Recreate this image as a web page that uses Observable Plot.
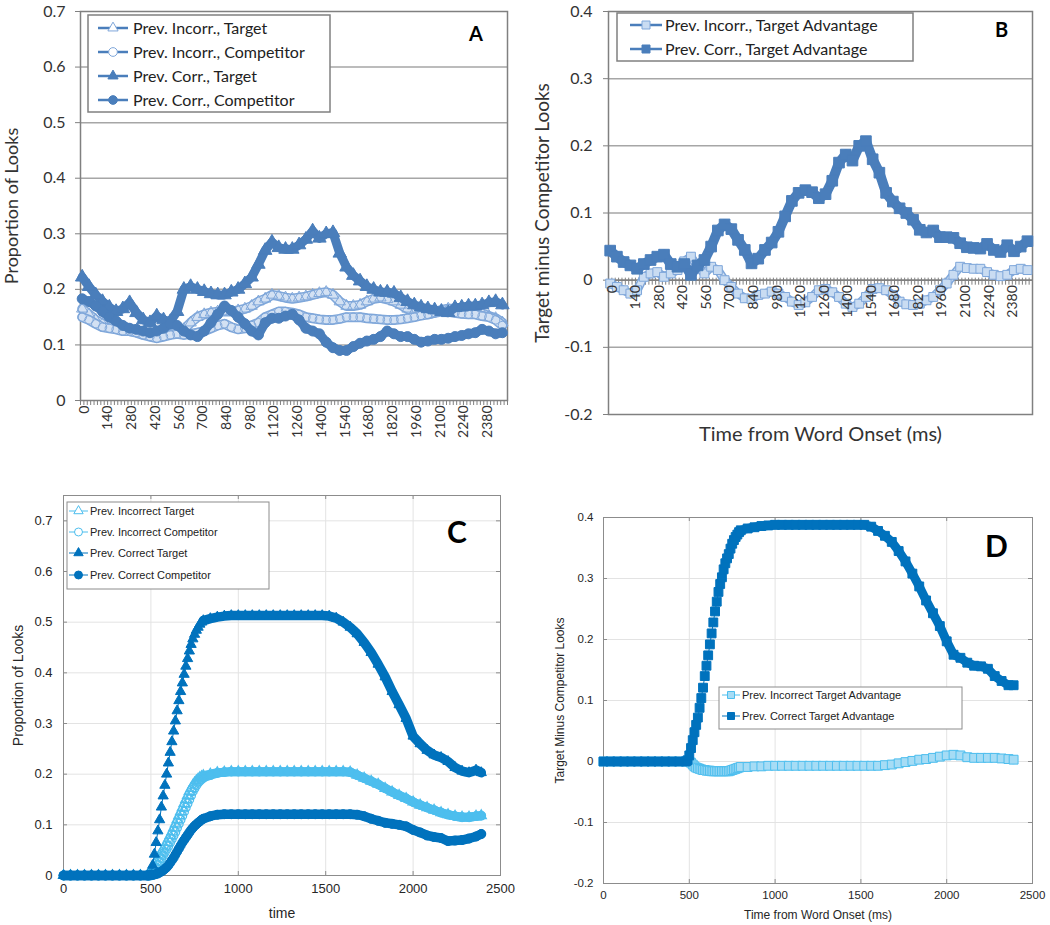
<!DOCTYPE html>
<html><head><meta charset="utf-8">
<script src="https://cdn.jsdelivr.net/npm/d3@7"></script>
<script src="https://cdn.jsdelivr.net/npm/@observablehq/plot@0.6"></script>
<style>
body{margin:0;background:#fff;}
#wrap{position:relative;width:1050px;height:925px;overflow:hidden;background:#fff;}
.panel{position:absolute;}
</style></head><body><div id="wrap"></div>
<script>
// ---------- Panels A & B (time bins, ms) ----------
const abTime = [0,40,80,120,160,200,240,280,320,360,
  400,440,480,520,560,600,640,680,720,760,
  800,840,880,920,960,1000,1040,1080,1120,1160,
  1200,1240,1280,1320,1360,1400,1440,1480,1520,1560,
  1600,1640,1680,1720,1760,1800,1840,1880,1920,1960,
  2000,2040,2080,2120,2160,2200,2240,2280,2320,2360,
  2400,2440,2480];
const aIncorrTarget = [.165,.155,.145,.138,.135,.13,.128,.125,.123,.12,
  .118,.115,.118,.12,.122,.128,.14,.15,.155,.158,
  .16,.16,.16,.162,.165,.17,.178,.183,.19,.188,
  .185,.183,.185,.187,.19,.193,.195,.19,.178,.17,
  .17,.172,.178,.183,.185,.182,.178,.172,.165,.16,
  .157,.155,.158,.163,.165,.165,.165,.163,.16,.157,
  .152,.148,.14];
const aIncorrComp = [.15,.145,.138,.132,.13,.128,.125,.125,.122,.118,
  .115,.112,.115,.118,.12,.118,.12,.122,.125,.13,
  .135,.138,.132,.128,.13,.135,.14,.15,.155,.16,
  .16,.158,.155,.15,.148,.146,.145,.145,.147,.15,
  .15,.15,.148,.147,.146,.145,.145,.146,.148,.15,
  .153,.155,.158,.16,.16,.158,.156,.155,.155,.152,
  .15,.145,.135];
const aCorrTarget = [.222,.205,.19,.178,.168,.16,.165,.176,.158,.145,
  .14,.152,.145,.142,.16,.2,.205,.2,.196,.192,
  .19,.19,.195,.2,.21,.222,.245,.27,.285,.275,
  .272,.272,.28,.29,.305,.292,.3,.302,.265,.24,
  .225,.215,.205,.2,.195,.195,.193,.185,.178,.172,
  .168,.165,.163,.16,.158,.167,.168,.17,.17,.172,
  .176,.178,.172];
const aCorrComp = [.183,.178,.17,.16,.15,.143,.135,.13,.128,.125,
  .122,.125,.13,.138,.135,.125,.118,.115,.125,.14,
  .155,.17,.162,.15,.138,.125,.118,.14,.148,.148,
  .152,.155,.145,.13,.125,.12,.105,.095,.09,.09,
  .097,.103,.107,.11,.115,.125,.12,.115,.115,.11,
  .105,.107,.11,.11,.112,.115,.117,.12,.122,.128,
  .125,.12,.122];
const bIncorrAdv = [-.005,-.01,-.015,-.02,-.015,.005,.01,.012,.005,.01,
  .015,.028,.035,.02,.01,.02,.015,0,-.01,-.02,
  -.027,-.028,-.022,-.02,-.017,-.02,-.025,-.032,-.037,-.033,
  -.025,-.015,-.013,-.018,-.025,-.035,-.04,-.035,-.025,-.013,
  -.012,-.015,-.022,-.032,-.036,-.037,-.035,-.03,-.025,-.015,
  -.005,.008,.02,.018,.017,.017,.012,.008,.006,.008,
  .015,.017,.015];
const bCorrAdv = [.044,.035,.027,.022,.017,.024,.03,.035,.038,.024,
  .02,.024,.008,.022,.03,.05,.074,.083,.076,.06,
  .045,.025,.032,.045,.056,.072,.095,.118,.13,.134,
  .131,.122,.128,.148,.175,.187,.178,.2,.207,.18,
  .16,.13,.117,.107,.1,.09,.075,.071,.074,.064,
  .064,.063,.055,.049,.048,.047,.054,.045,.042,.052,
  .043,.05,.058];
const abTickLabels = [0,140,280,420,560,700,840,980,1120,1260,1400,1540,1680,1820,1960,2100,2240,2380];
const aYTicks = [0,0.1,0.2,0.3,0.4,0.5,0.6,0.7];
const bYTicks = [-0.2,-0.1,0,0.1,0.2,0.3,0.4];

// ---------- Panels C & D ----------
const cdTime = [0,40,80,120,160,200,240,280,320,360,400,440,480,
  490,500,510,520,530,540,550,560,570,580,
  590,600,610,620,630,640,650,660,670,680,
  690,700,710,720,730,740,750,760,770,780,
  790,800,
  840,880,920,960,1000,1040,1080,1120,1160,1200,
  1240,1280,1320,1360,1400,1440,1480,1520,1560,1600,
  1640,1680,1720,1760,1800,1840,1880,1920,1960,2000,
  2040,2080,2120,2160,2200,2240,2280,2320,2360,
  2390];
const cIncorrTarget = [0,0,0,0,0,0,0,0,0,0,0,0,0,
  .004,.01,.016,.022,.028,.034,.04,.046,.052,.058,
  .065,.072,.079,.086,.094,.102,.11,.118,.126,.134,
  .142,.15,.158,.166,.172,.178,.183,.187,.19,.193,
  .195,.197,
  .2,.203,.204,.205,.205,.205,.205,.205,.205,.205,
  .205,.205,.205,.205,.205,.205,.205,.205,.205,.205,
  .204,.198,.192,.186,.18,.172,.165,.158,.152,.145,
  .139,.134,.129,.124,.12,.117,.115,.115,.117,
  .118];
const cIncorrComp = [0,0,0,0,0,0,0,0,0,0,0,0,0,
  0,0,.004,.01,.016,.022,.028,.034,.04,.046,
  .052,.058,.065,.072,.079,.086,.094,.102,.11,.118,
  .126,.134,.142,.15,.158,.166,.172,.178,.183,.187,
  .19,.193,
  .198,.202,.204,.205,.205,.205,.205,.205,.205,.205,
  .205,.205,.205,.205,.205,.205,.205,.205,.205,.205,
  .204,.198,.192,.186,.18,.172,.165,.158,.152,.145,
  .139,.134,.129,.124,.12,.117,.115,.115,.117,
  .118];
const cCorrTarget = [0,0,0,0,0,0,0,0,0,0,0,0,0,
  0,0,.02,.042,.065,.088,.11,.135,.157,.178,
  .2,.222,.243,.264,.285,.305,.325,.345,.363,.38,
  .397,.413,.428,.443,.456,.467,.476,.484,.49,.496,
  .5,.503,
  .507,.51,.512,.513,.513,.513,.513,.513,.513,.513,
  .513,.513,.513,.513,.513,.513,.513,.512,.508,.5,
  .49,.477,.46,.44,.417,.392,.363,.337,.31,.275,
  .26,.247,.238,.233,.225,.213,.206,.203,.208,
  .203];
const cCorrComp = [0,0,0,0,0,0,0,0,0,0,0,0,0,
  0,.001,.001,.002,.003,.004,.006,.008,.01,.013,
  .016,.02,.025,.03,.035,.041,.047,.053,.059,.065,
  .07,.075,.08,.085,.09,.094,.098,.101,.104,.107,
  .11,.112,
  .117,.12,.121,.121,.121,.121,.121,.121,.121,.121,
  .121,.121,.121,.121,.121,.121,.121,.121,.121,.121,
  .121,.12,.117,.112,.108,.104,.102,.1,.097,.09,
  .085,.079,.076,.074,.068,.069,.07,.073,.077,
  .082];
const dIncorrAdv = [0,0,0,0,0,0,0,0,0,0,0,0,0,
  0,0,-.002,-.005,-.008,-.01,-.011,-.012,-.013,-.014,
  -.014,-.015,-.015,-.015,-.016,-.016,-.016,-.016,-.016,-.016,
  -.016,-.016,-.016,-.016,-.016,-.015,-.014,-.013,-.012,-.011,
  -.01,-.009,
  -.009,-.008,-.008,-.007,-.007,-.007,-.007,-.007,-.007,-.007,
  -.007,-.007,-.007,-.007,-.007,-.007,-.007,-.007,-.007,-.007,
  -.006,-.005,-.003,-.001,.001,.003,.004,.006,.008,.01,
  .011,.01,.007,.006,.006,.006,.006,.005,.004,
  .003];
const dCorrAdv = [0,0,0,0,0,0,0,0,0,0,0,0,0,
  .002,.01,.022,.035,.048,.06,.072,.088,.104,.121,
  .14,.157,.174,.192,.21,.228,.246,.262,.278,.291,
  .302,.315,.325,.333,.34,.349,.357,.363,.368,.372,
  .376,.379,
  .382,.384,.386,.387,.388,.388,.388,.388,.388,.388,
  .388,.388,.388,.388,.388,.388,.388,.388,.385,.378,
  .37,.36,.345,.328,.308,.287,.264,.243,.222,.197,
  .175,.17,.162,.157,.156,.152,.14,.132,.125,
  .125];
const cdXTicks = [0,500,1000,1500,2000,2500];
const cYTicks = [0,0.1,0.2,0.3,0.4,0.5,0.6,0.7];
const dYTicks = [-0.2,-0.1,0,0.1,0.2,0.3,0.4];

// ---------- Text ----------
const aLabels = ["Prev. Incorr., Target","Prev. Incorr., Competitor","Prev. Corr., Target","Prev. Corr., Competitor"];
const bLabels = ["Prev. Incorr., Target Advantage","Prev. Corr., Target Advantage"];
const cLabels = ["Prev. Incorrect Target","Prev. Incorrect Competitor","Prev. Correct Target","Prev. Correct Competitor"];
const dLabels = ["Prev. Incorrect Target Advantage","Prev. Correct Target Advantage"];

// ---------- Styling ----------
const XL = "#4a7ebb", XL_HOLLOW = "#7fa7da", XL_LIGHTFILL = "#c9dcf2", XL_BANDLIGHT = "#d3e1f3";
const M_DARK = "#0072bd", M_LIGHT = "#4dbeee", M_LIGHTFILL = "#a6dcf5";
const XFONT = "Lato, 'Open Sans', sans-serif";
const MFONT = "'Liberation Sans', Arial, Helvetica, sans-serif";
const fmt = d => String(+(+d).toFixed(2));
const fmtInt = d => String(d);

const wrap = document.getElementById("wrap");
function place(svg, left, top) {
  const d = document.createElement("div");
  d.className = "panel"; d.style.left = left + "px"; d.style.top = top + "px";
  d.appendChild(svg); wrap.appendChild(d);
}
const tidy = (time, vals) => vals.map((v, i) => ({t: time[i], v}));

function excelFilled(time, vals, o) {
  const data = tidy(time, vals);
  return [
    Plot.line(data, {x: "t", y: "v", stroke: XL, strokeWidth: o.lw}),
    Plot.dot(data, {x: "t", y: "v", symbol: o.symbol, r: o.r, fill: XL, stroke: XL, strokeWidth: 1})
  ];
}
function excelHollow(time, vals, o) {
  const data = tidy(time, vals);
  return [
    Plot.line(data, {x: "t", y: "v", stroke: XL_HOLLOW, strokeWidth: o.lw}),
    Plot.line(data, {x: "t", y: "v", stroke: XL_BANDLIGHT, strokeWidth: o.lw - 3}),
    Plot.dot(data, {x: "t", y: "v", symbol: o.symbol, r: o.r, fill: o.fill || "none", stroke: XL_HOLLOW, strokeWidth: 1})
  ];
}
function matSeries(time, vals, o) {
  const data = tidy(time, vals);
  const bands = o.fullBand ? [data] : [data.filter(d => d.t <= 490), data.filter(d => d.t >= 800)];
  return [
    Plot.line(data, {x: "t", y: "v", stroke: o.line, strokeWidth: 1}),
    ...bands.map(b => Plot.line(b, {x: "t", y: "v", stroke: o.band, strokeWidth: o.bw})),
    Plot.dot(data, {x: "t", y: "v", symbol: o.symbol, r: o.r, fill: o.fill, stroke: o.stroke, strokeWidth: o.sw})
  ];
}
const catBounds = d3.range(-10, 2511, 20);
const yTitle = (txt, dx, fs, fill) => Plot.text([txt], {frameAnchor: "left", dx, rotate: -90, fontSize: fs, text: d => d, fill, textAnchor: "middle", lineAnchor: "middle"});
const xTitle = (txt, dy, fs, fill) => Plot.text([txt], {frameAnchor: "bottom", dy, fontSize: fs, text: d => d, fill, textAnchor: "middle", lineAnchor: "middle"});

// ---------- Panel A ----------
const plotA = Plot.plot({
  width: 520, height: 452, marginLeft: 80, marginRight: 13, marginTop: 11, marginBottom: 52,
  x: {domain: [-10, 2510]}, y: {domain: [0, 0.7]},
  style: {fontFamily: XFONT, background: "transparent", overflow: "visible", color: "#333"},
  marks: [
    Plot.gridY(aYTicks.slice(1, -1), {stroke: "#a6a6a6", strokeOpacity: 1, strokeWidth: 1.5}),
    Plot.frame({stroke: "#808080", strokeWidth: 1.5}),
    Plot.axisY(aYTicks, {tickSize: 5, tickPadding: 10, fontSize: 16, tickFormat: fmt, label: null, stroke: "#808080"}),
    Plot.axisX(catBounds, {tickSize: 5, tickFormat: () => "", label: null, stroke: "#808080"}),
    Plot.axisX(abTickLabels, {tickSize: 0, tickPadding: 5, tickRotate: -90, fontSize: 14, label: null, dx: 2, tickFormat: fmtInt}),
    ...excelHollow(abTime, aIncorrTarget, {lw: 10, symbol: "triangle", r: 4.2}),
    ...excelHollow(abTime, aIncorrComp, {lw: 10, symbol: "circle", r: 4.2}),
    ...excelFilled(abTime, aCorrTarget, {lw: 9, symbol: "triangle", r: 5}),
    ...excelFilled(abTime, aCorrComp, {lw: 9, symbol: "circle", r: 5}),
    yTitle("Proportion of Looks", -68, 18, "#333")
  ]
});
place(plotA, 0, 0);

// ---------- Panel B ----------
const plotB = Plot.plot({
  width: 530, height: 450, marginLeft: 88, marginRight: 18, marginTop: 11, marginBottom: 36,
  x: {domain: [-10, 2510], axis: null}, y: {domain: [-0.2, 0.4]},
  style: {fontFamily: XFONT, background: "transparent", overflow: "visible", color: "#333"},
  marks: [
    Plot.gridY([-0.1, 0.1, 0.2, 0.3], {stroke: "#a6a6a6", strokeOpacity: 1, strokeWidth: 1.5}),
    Plot.frame({stroke: "#808080", strokeWidth: 1.5}),
    Plot.axisY(bYTicks, {tickSize: 5, tickPadding: 11, fontSize: 16, tickFormat: fmt, label: null, stroke: "#808080"}),
    Plot.ruleY([0], {stroke: "#808080", strokeWidth: 1.8}),
    Plot.ruleX(catBounds, {x: d => d, y1: 0.003, y2: -0.0075, stroke: "#808080", strokeWidth: 1}),
    ...excelHollow(abTime, bIncorrAdv, {lw: 9, symbol: "square", r: 5, fill: XL_LIGHTFILL}),
    ...excelFilled(abTime, bCorrAdv, {lw: 10, symbol: "square", r: 6}),
    Plot.text(abTickLabels, {x: d => d, y: 0, text: d => String(d), rotate: -90, textAnchor: "end", dy: 5, dx: 2, fontSize: 14, fill: "#333"}),
    yTitle("Target minus Competitor Looks", -66, 19, "#333"),
    xTitle("Time from Word Onset (ms)", 20, 20, "#333")
  ]
});
place(plotB, 520, 0);

// ---------- Panel C ----------
const cW = 520 - 63 - 20, cH = 455 - 25 - 50;
const plotC = Plot.plot({
  width: 520, height: 455, marginLeft: 63, marginRight: 20, marginTop: 25, marginBottom: 50,
  x: {domain: [0, 2500]}, y: {domain: [0, 0.75]},
  style: {fontFamily: MFONT, background: "transparent", overflow: "visible", color: "#262626"},
  marks: [
    Plot.gridX(cdXTicks, {stroke: "#e3e3e3", strokeOpacity: 1}),
    Plot.gridY(cYTicks, {stroke: "#e3e3e3", strokeOpacity: 1}),
    Plot.frame({stroke: "#8c8c8c"}),
    Plot.tickX(cdXTicks, {x: d => d, insetBottom: cH - 4, stroke: "#8c8c8c"}),
    Plot.tickX(cdXTicks, {x: d => d, insetTop: cH - 4, stroke: "#8c8c8c"}),
    Plot.tickY(cYTicks, {y: d => d, insetRight: cW - 4, stroke: "#8c8c8c"}),
    Plot.tickY(cYTicks, {y: d => d, insetLeft: cW - 4, stroke: "#8c8c8c"}),
    Plot.axisX(cdXTicks, {tickSize: 0, tickPadding: 8, fontSize: 13, label: null, tickFormat: fmtInt}),
    Plot.axisY(cYTicks, {tickSize: 0, tickPadding: 11, fontSize: 13, tickFormat: fmt, label: null}),
    ...matSeries(cdTime, cIncorrTarget, {line: M_LIGHT, band: M_LIGHT, bw: 9, symbol: "triangle", r: 3.8, fill: "none", stroke: M_LIGHT, sw: 1.2}),
    ...matSeries(cdTime, cIncorrComp, {line: M_LIGHT, band: M_LIGHT, bw: 9, symbol: "circle", r: 4.3, fill: "none", stroke: M_LIGHT, sw: 1.2}),
    ...matSeries(cdTime, cCorrTarget, {line: M_DARK, band: M_DARK, bw: 9.5, symbol: "triangle", r: 3.8, fill: M_DARK, stroke: M_DARK, sw: 1}),
    ...matSeries(cdTime, cCorrComp, {line: M_DARK, band: M_DARK, bw: 9.5, symbol: "circle", r: 4.5, fill: M_DARK, stroke: M_DARK, sw: 1}),
    yTitle("Proportion of Looks", -45, 14, "#262626"),
    xTitle("time", 38, 14, "#262626")
  ]
});
place(plotC, 0, 470);

// ---------- Panel D ----------
const dW = 530 - 83 - 18, dH = 455 - 47 - 42;
const plotD = Plot.plot({
  width: 530, height: 455, marginLeft: 83, marginRight: 18, marginTop: 47, marginBottom: 42,
  x: {domain: [0, 2500]}, y: {domain: [-0.2, 0.4]},
  style: {fontFamily: MFONT, background: "transparent", overflow: "visible", color: "#262626"},
  marks: [
    Plot.gridX(cdXTicks, {stroke: "#e3e3e3", strokeOpacity: 1}),
    Plot.gridY(dYTicks, {stroke: "#e3e3e3", strokeOpacity: 1}),
    Plot.frame({stroke: "#8c8c8c"}),
    Plot.tickX(cdXTicks, {x: d => d, insetBottom: dH - 4, stroke: "#8c8c8c"}),
    Plot.tickX(cdXTicks, {x: d => d, insetTop: dH - 4, stroke: "#8c8c8c"}),
    Plot.tickY(dYTicks, {y: d => d, insetRight: dW - 4, stroke: "#8c8c8c"}),
    Plot.tickY(dYTicks, {y: d => d, insetLeft: dW - 4, stroke: "#8c8c8c"}),
    Plot.axisX(cdXTicks, {tickSize: 0, tickPadding: 7, fontSize: 11.5, label: null, tickFormat: fmtInt}),
    Plot.axisY(dYTicks, {tickSize: 0, tickPadding: 10, fontSize: 11.5, tickFormat: fmt, label: null}),
    ...matSeries(cdTime, dIncorrAdv, {line: M_LIGHT, band: "#8fd2f2", bw: 9, fullBand: true, symbol: "square", r: 5, fill: M_LIGHTFILL, stroke: M_LIGHT, sw: 1}),
    ...matSeries(cdTime, dCorrAdv, {line: M_DARK, band: M_DARK, bw: 9, symbol: "square", r: 5, fill: M_DARK, stroke: M_DARK, sw: 1}),
    yTitle("Target Minus Competitor Looks", -43, 12, "#262626"),
    xTitle("Time from Word Onset (ms)", 32, 12, "#262626")
  ]
});
place(plotD, 520, 470);

// ---------- Overlay: legends & panel letters ----------
const ov = d3.select(wrap).append("svg").attr("width", 1050).attr("height", 925)
  .style("position", "absolute").style("left", 0).style("top", 0);

function legend(cfg) {
  const g = ov.append("g").attr("transform", `translate(${cfg.x},${cfg.y})`);
  g.append("rect").attr("x", 0).attr("y", 0).attr("width", cfg.w).attr("height", cfg.h)
    .attr("fill", "#fff").attr("stroke", cfg.border).attr("stroke-width", cfg.bw);
  cfg.items.forEach((it, i) => {
    const y = cfg.rows[i];
    g.append("line").attr("x1", cfg.sx1).attr("x2", cfg.sx2).attr("y1", y).attr("y2", y)
      .attr("stroke", it.line).attr("stroke-width", cfg.lw);
    g.append("path").attr("d", d3.symbol(it.sym, it.size)())
      .attr("transform", `translate(${(cfg.sx1 + cfg.sx2) / 2},${y})`)
      .attr("fill", it.fill).attr("stroke", it.stroke).attr("stroke-width", 1);
    g.append("text").attr("x", cfg.tx).attr("y", y).attr("dy", "0.35em").text(it.label)
      .style("font-family", cfg.font).style("font-size", cfg.fs + "px").attr("fill", "#222");
  });
}

legend({x: 88, y: 15, w: 242, h: 97, border: "#808080", bw: 1.5, rows: [13, 37, 61, 85],
  sx1: 10, sx2: 40, tx: 45, lw: 2.5, font: XFONT, fs: 16,
  items: [
    {label: aLabels[0], line: XL, sym: d3.symbolTriangle, size: 45, fill: "#fff", stroke: XL_HOLLOW},
    {label: aLabels[1], line: XL, sym: d3.symbolCircle, size: 60, fill: "#fff", stroke: XL_HOLLOW},
    {label: aLabels[2], line: XL, sym: d3.symbolTriangle, size: 45, fill: XL, stroke: XL},
    {label: aLabels[3], line: XL, sym: d3.symbolCircle, size: 60, fill: XL, stroke: XL}
  ]});
legend({x: 617, y: 13, w: 296, h: 48, border: "#808080", bw: 1.5, rows: [12, 36],
  sx1: 13, sx2: 45, tx: 48, lw: 2.5, font: XFONT, fs: 16,
  items: [
    {label: bLabels[0], line: XL, sym: d3.symbolSquare, size: 64, fill: XL_LIGHTFILL, stroke: XL_HOLLOW},
    {label: bLabels[1], line: XL, sym: d3.symbolSquare, size: 64, fill: XL, stroke: XL}
  ]});
legend({x: 67, y: 502, w: 202, h: 87, border: "#8c8c8c", bw: 1, rows: [9, 30, 51, 73],
  sx1: 2, sx2: 21, tx: 23, lw: 1, font: MFONT, fs: 11,
  items: [
    {label: cLabels[0], line: M_LIGHT, sym: d3.symbolTriangle, size: 38, fill: "#fff", stroke: M_LIGHT},
    {label: cLabels[1], line: M_LIGHT, sym: d3.symbolCircle, size: 50, fill: "#fff", stroke: M_LIGHT},
    {label: cLabels[2], line: M_DARK, sym: d3.symbolTriangle, size: 38, fill: M_DARK, stroke: M_DARK},
    {label: cLabels[3], line: M_DARK, sym: d3.symbolCircle, size: 50, fill: M_DARK, stroke: M_DARK}
  ]});
legend({x: 719, y: 687, w: 243, h: 42, border: "#8c8c8c", bw: 1, rows: [8, 29],
  sx1: 3, sx2: 21, tx: 23, lw: 1, font: MFONT, fs: 11,
  items: [
    {label: dLabels[0], line: M_LIGHT, sym: d3.symbolSquare, size: 49, fill: M_LIGHTFILL, stroke: M_LIGHT},
    {label: dLabels[1], line: M_DARK, sym: d3.symbolSquare, size: 49, fill: M_DARK, stroke: M_DARK}
  ]});

const letters = [
  {t: "A", x: 469, y: 41, fs: 20},
  {t: "B", x: 995, y: 37, fs: 20},
  {t: "C", x: 447, y: 543, fs: 30},
  {t: "D", x: 985, y: 557, fs: 30}
];
letters.forEach(l => ov.append("text").attr("x", l.x).attr("y", l.y).text(l.t)
  .style("font-family", XFONT).style("font-weight", "bold").style("font-size", l.fs + "px").attr("fill", "#000"));
</script></body></html>
